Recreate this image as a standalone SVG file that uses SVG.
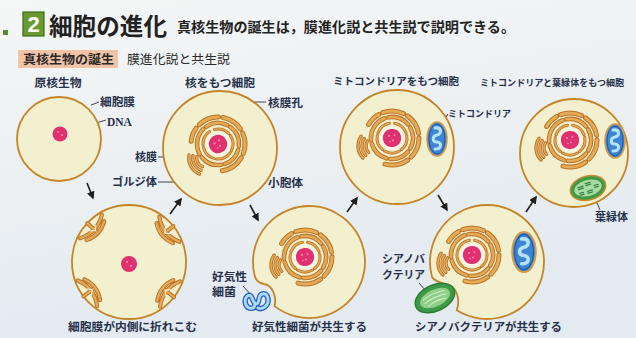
<svg xmlns="http://www.w3.org/2000/svg" xmlns:xlink="http://www.w3.org/1999/xlink" width="636" height="338" viewBox="0 0 636 338">
  <defs>
    <linearGradient id="bg" x1="0" y1="0" x2="0.3" y2="1">
      <stop offset="0" stop-color="#f5f6f6"/>
      <stop offset="1" stop-color="#e3eaf0"/>
    </linearGradient>
    <marker id="ah" viewBox="0 0 10 10" refX="8" refY="5" markerWidth="5" markerHeight="5" orient="auto">
      <path d="M0,0 L10,5 L0,10 z" fill="#1f1f1f"/>
    </marker>
    <style>
      .cell { fill: #f3f0d0; stroke: #c58428; stroke-width: 1.8; }
      .lbl { font-family: "Noto Sans CJK JP", "Noto Sans", sans-serif; font-size: 11px; font-weight: bold; fill: #26304a; }
      .sm { font-size: 10px; }
      .xs { font-size: 9px; }
      .lead { fill: none; stroke: #2a2f3a; stroke-width: 0.9; }
      .arrow { stroke: #1f1f1f; stroke-width: 1.6; marker-end: url(#ah); }
      .erO { fill: none; stroke: #b8742a; stroke-linecap: round; }
      .erI { fill: none; stroke: #e6aa55; stroke-linecap: round; }
      .dna { fill: #e0306f; }
    </style>

    <!-- nuclear envelope and endoplasmic reticulum rings -->
    <g id="ring1">
      <path d="M2.60,-14.77 A15 15 0 0 1 14.10,-5.13 M14.77,-2.60 A15 15 0 0 1 9.64,11.49 M7.5,12.99 A15 15 0 0 1 -7.5,12.99 M-9.64,11.49 A15 15 0 0 1 -14.77,-2.60 M-14.10,-5.13 A15 15 0 0 1 -2.60,-14.77"/>
    </g>
    <g id="ring2">
      <path d="M-3.65,-20.68 A21 21 0 0 1 16.09,-13.50 M18.19,-10.5 A21 21 0 0 1 18.19,10.5 M16.09,13.50 A21 21 0 0 1 -1.83,20.92 M-5.43,20.28 A21 21 0 0 1 -20.28,5.43 M-20.92,1.83 A21 21 0 0 1 -7.18,-19.73"/>
    </g>
    <g id="ring3">
      <path d="M-23.38,-13.5 A27 27 0 0 1 -13.5,-23.38 M-9.23,-25.37 A27 27 0 0 1 11.41,-24.47 M15.49,-22.12 A27 27 0 0 1 26.59,-4.69 M27,0 A27 27 0 0 1 19.09,19.09 M15.49,22.12 A27 27 0 0 1 -6.99,26.08"/>
    </g>
    <g id="golgi">
      <path d="M-23.36,14.36 A9 9 0 0 1 -24.37,2.84 M-26.19,17.19 A13 13 0 0 1 -27.65,0.54 M-29.02,20.02 A17 17 0 0 1 -30.93,-1.75"/>
    </g>

    <!-- nucleus with surrounding membranes -->
    <g id="nucleus">
      <circle r="12" fill="#fbf4e4"/>
      <path class="dna" d="M0,-9 C5,-9.6 9.4,-5 9,0 C9.5,5 5,9.3 0,9 C-5,9.6 -9.2,5 -9,0 C-9.4,-5 -5,-9.2 0,-9Z"/>
      <circle cx="-3" cy="-2" r="1.1" fill="#f48ab4"/>
      <circle cx="2.5" cy="-3" r="1" fill="#f48ab4"/>
      <circle cx="1" cy="2.5" r="1.1" fill="#f48ab4"/>
      <circle cx="-2" cy="3.5" r="0.8" fill="#f48ab4"/>
      <use href="#ring1" class="erO" stroke-width="3"/>
      <use href="#ring1" class="erI" stroke-width="1.4"/>
      <use href="#ring2" class="erO" stroke-width="4.6"/>
      <use href="#ring2" class="erI" stroke-width="2.6"/>
      <use href="#ring3" class="erO" stroke-width="5"/>
      <use href="#ring3" class="erI" stroke-width="3"/>
      <use href="#golgi" class="erO" stroke-width="3.4"/>
      <use href="#golgi" class="erI" stroke-width="1.6"/>
    </g>

    <!-- mitochondrion -->
    <g id="mito">
      <ellipse rx="10" ry="17" fill="#3d86d4" stroke="#d49a48" stroke-width="1.6"/>
      <ellipse rx="8" ry="15" fill="none" stroke="#1f58a8" stroke-width="1"/>
      <path d="M-2,-11 C5,-12 5,-5 0,-4 C-5,-3 -5,3 0,3 C5,3.5 5,10 -2,10" fill="none" stroke="#b5e2f7" stroke-width="3" stroke-linecap="round"/>
    </g>

    <!-- chloroplast -->
    <g id="chloro">
      <ellipse rx="18" ry="12" fill="#3f9a45" stroke="#c98a35" stroke-width="1.5"/>
      <ellipse rx="14" ry="8" fill="#a9dca2"/>
      <path d="M-10,-3 h6 M-10,-1 h6 M-2,-5 h6 M-2,-3 h6 M-2,3 h6 M-2,5 h6 M6,-1 h5 M6,1 h5 M-10,3 h5 M-10,5 h5" stroke="#2f7a35" stroke-width="1.1"/>
    </g>

    <!-- infolding of the plasma membrane (outward = +x) -->
    <g id="fold">
      <path d="M57,0 L45,0 M52,-16 Q43,0 52,16 M46,-13 Q39,0 46,13" class="erO" stroke-width="4.2"/>
      <path d="M57,0 L45,0 M52,-16 Q43,0 52,16 M46,-13 Q39,0 46,13" class="erI" stroke-width="2.2"/>
      <path d="M50,-4 L46,0 L50,4" fill="none" stroke="#ffffff" stroke-width="0.9"/>
    </g>
  </defs>

  <!-- background -->
  <rect width="636" height="338" fill="url(#bg)"/>

  <!-- heading -->
  <g id="heading">
    <rect x="3" y="30" width="5" height="5" fill="#5a8a2a"/>
    <rect x="23" y="12" width="21" height="24" fill="#6a9a30" stroke="#3e6a1e" stroke-width="1.2"/>
    <text x="33.5" y="32" text-anchor="middle" font-family="Liberation Sans, Arial, sans-serif" font-weight="bold" font-size="22" fill="#ffffff">2</text>
    <text x="49" y="35" font-family="Noto Sans CJK JP, sans-serif" font-weight="bold" font-size="23.5" fill="#222222" textLength="118" lengthAdjust="spacingAndGlyphs">細胞の進化</text>
    <text x="177" y="32" font-family="Noto Sans CJK JP, sans-serif" font-weight="bold" font-size="13.5" fill="#222222" textLength="338" lengthAdjust="spacingAndGlyphs">真核生物の誕生は，膜進化説と共生説で説明できる。</text>
    <rect x="18" y="50" width="100" height="18" fill="#f2c3a6"/>
    <text x="23" y="64" font-family="Noto Sans CJK JP, sans-serif" font-weight="bold" font-size="12.5" fill="#2a2a2a" textLength="91" lengthAdjust="spacingAndGlyphs">真核生物の誕生</text>
    <text x="127" y="64" font-family="Noto Sans CJK JP, sans-serif" font-size="12.5" fill="#2a2a2a" textLength="103" lengthAdjust="spacingAndGlyphs">膜進化説と共生説</text>
  </g>

  <!-- connectors: evolution arrows and leader lines -->
  <g id="connectors">
    <line class="arrow" x1="87" y1="183" x2="93" y2="198"/>
    <line class="arrow" x1="170" y1="214" x2="181" y2="199"/>
    <line class="arrow" x1="250" y1="205" x2="258" y2="220"/>
    <line class="arrow" x1="347" y1="212" x2="357" y2="198"/>
    <line class="arrow" x1="438" y1="195" x2="447" y2="210"/>
    <line class="arrow" x1="526" y1="212" x2="536" y2="197"/>

    <polyline class="lead" points="91,105 99,102"/>
    <polyline class="lead" points="66,132 106,120"/>
    <polyline class="lead" points="218,125 226,102 266,102"/>
    <polyline class="lead" points="158,157 202,157"/>
    <polyline class="lead" points="158,182 189,182 194,172"/>
    <polyline class="lead" points="237,166 250,183 266,183"/>
    <polyline class="lead" points="442,123 448,114"/>
    <polyline class="lead" points="595,198 600,210"/>
    <polyline class="lead" points="243,286 252,296"/>
    <polyline class="lead" points="419,283 426,291"/>
  </g>

  <!-- prokaryote -->
  <g id="prokaryote">
    <circle class="cell" cx="59" cy="139" r="42"/>
    <circle class="dna" cx="60" cy="134" r="7.5"/>
    <circle cx="58" cy="132" r="1" fill="#f48ab4"/>
    <circle cx="62" cy="135" r="1" fill="#f48ab4"/>
    <text class="lbl" x="58" y="87" text-anchor="middle" textLength="47" lengthAdjust="spacingAndGlyphs">原核生物</text>
    <text class="lbl" x="100" y="106" textLength="35" lengthAdjust="spacingAndGlyphs">細胞膜</text>
    <text x="107" y="126" font-family="Liberation Serif, serif" font-weight="bold" font-size="11.5" fill="#26304a">DNA</text>
  </g>

  <!-- membrane infolding -->
  <g id="infolding">
    <circle class="cell" cx="129" cy="262" r="57"/>
    <g transform="translate(129,262)">
      <use href="#fold" transform="rotate(-137)"/>
      <use href="#fold" transform="rotate(-39)"/>
      <use href="#fold" transform="rotate(143)"/>
      <use href="#fold" transform="rotate(38)"/>
    </g>
    <circle class="dna" cx="129" cy="264" r="8"/>
    <circle cx="127" cy="262" r="1" fill="#f48ab4"/>
    <circle cx="131" cy="266" r="1" fill="#f48ab4"/>
    <text class="lbl" x="68" y="331" textLength="129" lengthAdjust="spacingAndGlyphs">細胞膜が内側に折れこむ</text>
  </g>

  <!-- cell with a nucleus -->
  <g id="nucleated">
    <circle class="cell" cx="220" cy="148" r="57"/>
    <use href="#nucleus" transform="translate(218,144) rotate(-24)"/>
    <text class="lbl" x="220" y="87" text-anchor="middle" textLength="70" lengthAdjust="spacingAndGlyphs">核をもつ細胞</text>
    <text class="lbl" x="268" y="107" textLength="35" lengthAdjust="spacingAndGlyphs">核膜孔</text>
    <text class="lbl" x="135" y="161" textLength="22" lengthAdjust="spacingAndGlyphs">核膜</text>
    <text class="lbl" x="112" y="186" textLength="45" lengthAdjust="spacingAndGlyphs">ゴルジ体</text>
    <text class="lbl" x="268" y="187" textLength="35" lengthAdjust="spacingAndGlyphs">小胞体</text>
  </g>

  <!-- aerobic bacterium taken in -->
  <g id="aerobic">
    <path class="cell" d="M254.22,273.64 A56 56 0 1 1 274.52,306.13 C277,296 272,285 264,284 C258,283 255,279 254.22,273.64 Z"/>
    <use href="#nucleus" transform="translate(305,257)"/>
    <g transform="translate(257,300)">
      <path d="M-11,5 C-14,-3 -7,-8 -5,-2 C-3,4 1,7 2,-1 C3,-8 10,-8 11,-1 C12,6 5,10 1,8 M-11,5 C-8,10 -2,9 -2,4" fill="none" stroke="#2a62c4" stroke-width="5.5" stroke-linecap="round" stroke-linejoin="round"/>
      <path d="M-11,5 C-14,-3 -7,-8 -5,-2 C-3,4 1,7 2,-1 C3,-8 10,-8 11,-1 C12,6 5,10 1,8 M-11,5 C-8,10 -2,9 -2,4" fill="none" stroke="#a8dcf5" stroke-width="2.8" stroke-linecap="round" stroke-linejoin="round"/>
    </g>
    <text class="lbl" x="212" y="281" textLength="35" lengthAdjust="spacingAndGlyphs">好気性</text>
    <text class="lbl" x="212" y="296" textLength="24" lengthAdjust="spacingAndGlyphs">細菌</text>
    <text class="lbl" x="252" y="331" textLength="115" lengthAdjust="spacingAndGlyphs">好気性細菌が共生する</text>
  </g>

  <!-- cell with mitochondria -->
  <g id="mitochondrial">
    <circle class="cell" cx="397" cy="147" r="57"/>
    <use href="#nucleus" transform="translate(392,138)"/>
    <use href="#mito" transform="translate(437,139)"/>
    <text class="lbl sm" x="333" y="85" textLength="126" lengthAdjust="spacingAndGlyphs">ミトコンドリアをもつ細胞</text>
    <text class="lbl xs" x="448" y="117" textLength="63" lengthAdjust="spacingAndGlyphs">ミトコンドリア</text>
  </g>

  <!-- cyanobacterium taken in -->
  <g id="cyano">
    <path class="cell" d="M431.94,276.75 A57 57 0 1 1 456.79,310.34 C460,300 458,288 448,285 C440,283 434,281 431.94,276.75 Z"/>
    <use href="#nucleus" transform="translate(472,255)"/>
    <use href="#mito" transform="translate(524,252) scale(1.18)"/>
    <g transform="translate(435,298) rotate(-25)">
      <ellipse rx="21" ry="13" fill="#3e9a48" stroke="#2b7a33" stroke-width="1.4"/>
      <ellipse rx="16" ry="8.5" fill="#8fcf88"/>
      <path d="M-12,-3 C-6,-5 6,-5 12,-3 M-12,1 C-6,-1 6,-1 12,1 M-10,5 C-4,3 4,3 10,5" fill="none" stroke="#d6f0cf" stroke-width="1"/>
    </g>
    <text class="lbl" x="382" y="263" textLength="43" lengthAdjust="spacingAndGlyphs">シアノバ</text>
    <text class="lbl" x="382" y="279" textLength="43" lengthAdjust="spacingAndGlyphs">クテリア</text>
    <text class="lbl" x="415" y="331" textLength="147" lengthAdjust="spacingAndGlyphs">シアノバクテリアが共生する</text>
  </g>

  <!-- cell with mitochondria and chloroplasts -->
  <g id="plant">
    <circle class="cell" cx="574" cy="153" r="54"/>
    <use href="#nucleus" transform="translate(570,140)"/>
    <use href="#mito" transform="translate(615,141)"/>
    <use href="#chloro" transform="translate(588,188) rotate(-15)"/>
    <text class="lbl xs" x="480" y="86" textLength="144" lengthAdjust="spacingAndGlyphs">ミトコンドリアと葉緑体をもつ細胞</text>
    <text class="lbl" x="595" y="221" textLength="33" lengthAdjust="spacingAndGlyphs">葉緑体</text>
  </g>
</svg>
